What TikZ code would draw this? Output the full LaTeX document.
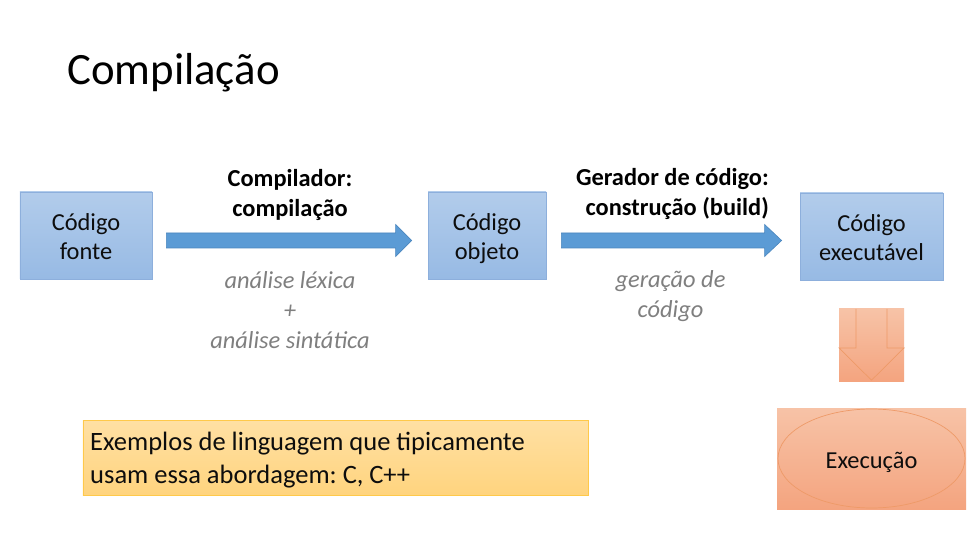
\documentclass[tikz,border=0pt]{standalone}
\usepackage{fontspec}
\setmainfont{Carlito}
\usetikzlibrary{calc}
\definecolor{boxtop}{HTML}{B2CCEB}
\definecolor{boxbot}{HTML}{97BAE4}
\definecolor{boxline}{HTML}{8DAFDC}
\definecolor{arrowfill}{HTML}{5B9BD5}
\definecolor{arrowline}{HTML}{4A86BE}
\definecolor{orgtop}{HTML}{F7C3A7}
\definecolor{orgbot}{HTML}{F4A47F}
\definecolor{orgline}{HTML}{EE9A68}
\definecolor{yeltop}{HTML}{FFE0A4}
\definecolor{yelbot}{HTML}{FFD47E}
\definecolor{yelline}{HTML}{FFC94A}
\definecolor{graytxt}{HTML}{7F7F7F}
\definecolor{txt}{HTML}{0D0D0D}
\newcommand{\myhstrut}{\rule{0pt}{26bp}}
\newcommand{\mydstrut}{\rule[-7bp]{0pt}{7bp}}
\begin{document}
\frenchspacing
\begin{tikzpicture}[x=1bp,y=-1bp,
  codebox/.style={draw=boxline, line width=0.8bp, top color=boxtop, bottom color=boxbot,
    minimum height=87bp, inner sep=0pt, align=center, text=txt,
    font=\fontsize{24.4bp}{29.5bp}\selectfont},
  orgbox/.style={top color=orgtop, bottom color=orgbot, inner sep=0pt},
  blockarrow/.style={fill=arrowfill, draw=arrowline, line width=0.6bp},
  boldlabel/.style={font=\bfseries\fontsize{24.4bp}{30bp}\selectfont, text=black, inner sep=0pt},
  graylabel/.style={font=\itshape\fontsize{24.4bp}{30bp}\selectfont, text=graytxt, inner sep=0pt, align=center},
  thinorg/.style={draw=orgline, line width=0.7bp}
]
\useasboundingbox[fill=white] (0,0) rectangle (977,533);

% title
\node[anchor=base west, inner sep=0pt, font=\fontsize{44.8bp}{54bp}\selectfont, text=black] (title) at (67,85) {Compilação};

% boxes
\node[codebox, minimum width=132bp] (fonte) at (86,235.5) {\myhstrut Código\\fonte\mydstrut};
\node[codebox, minimum width=118bp] (objeto) at (487,235.5) {\myhstrut Código\\objeto\mydstrut};
\node[codebox, minimum width=143bp] (exe) at (871.5,236.5) {\myhstrut Código\\executável\mydstrut};

% arrow 1
\coordinate (a1s) at ($(fonte.east)+(14,5)$);
\coordinate (a1e) at ($(objeto.west)+(-16,5)$);
\filldraw[blockarrow] ($(a1s)+(0,-7.5)$) -- ($(a1e)+(-16,-7.5)$) -- ($(a1e)+(-16,-16)$) -- (a1e)
  -- ($(a1e)+(-16,16)$) -- ($(a1e)+(-16,7.5)$) -- ($(a1s)+(0,7.5)$) -- cycle;
% arrow 2
\coordinate (a2s) at ($(objeto.east)+(15,5)$);
\coordinate (a2e) at ($(exe.west)+(-18,4)$);
\filldraw[blockarrow] ($(a2s)+(0,-7.5)$) -- ($(a2e)+(-17,-7.5)$) -- ($(a2e)+(-17,-16)$) -- (a2e)
  -- ($(a2e)+(-17,16)$) -- ($(a2e)+(-17,7.5)$) -- ($(a2s)+(0,7.5)$) -- cycle;

% labels
\node[boldlabel, align=center] (l1) at (290,194.5) {Compilador:\\compilação};
\node[graylabel] (g1) at (290,310) {análise léxica\\+\\análise sintática};
\node[boldlabel, align=right, anchor=east] (l2) at (769,194) {Gerador de código:\\construção (build)};
\node[graylabel] (g2) at (670.5,296) {geração de\\código};

% down arrow block
\node[orgbox, minimum width=65bp, minimum height=72bp] (down) at (871.5,345) {};
\draw[thinorg, line join=miter] ($(down.north)+(-15.5,0)$) -- ($(down.center)+(-15.5,3)$) -- ($(down.center)+(-32.5,3)$)
  -- ($(down.south)+(0,-1)$) -- ($(down.center)+(32.5,3)$) -- ($(down.center)+(15.5,3)$) -- ($(down.north)+(15.5,0)$);

% execution
\node[orgbox, minimum width=189bp, minimum height=101bp] (exec) at (871.5,458.5) {};
\draw[thinorg] (exec.center) ellipse [x radius=93.5, y radius=49.5];
\node[inner sep=0pt, text=txt, font=\fontsize{24.4bp}{29.5bp}\selectfont] (exectxt) at (exec.center) {\myhstrut Execução\mydstrut};

% example box
\node[draw=yelline, line width=0.9bp, top color=yeltop, bottom color=yelbot, minimum width=505bp, minimum height=75bp, inner sep=0pt] (ex) at (335.5,457.5) {};
\node[anchor=west, align=left, inner sep=0pt, text=txt, font=\fontsize{26.5bp}{33.5bp}\selectfont] (extxt) at ($(ex.west)+(7.5,2.5)$) {Exemplos de linguagem que tipicamente\\usam essa abordagem: C, C++};
\end{tikzpicture}
\end{document}
